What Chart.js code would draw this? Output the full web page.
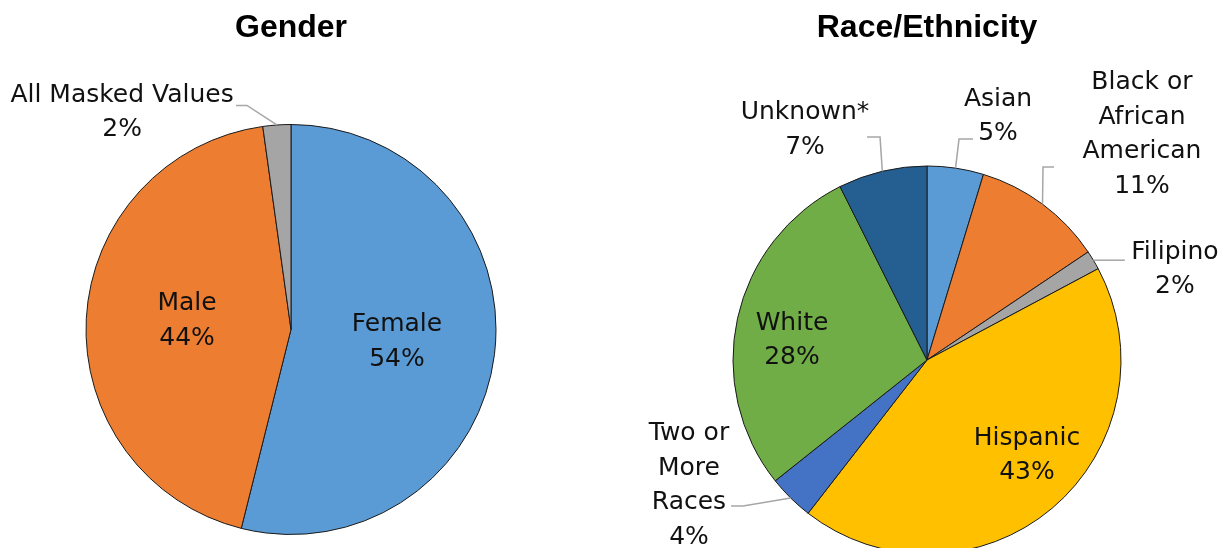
<!DOCTYPE html>
<html>
<head>
<meta charset="utf-8">
<script src="https://cdn.jsdelivr.net/npm/chart.js@4.4.0/dist/chart.umd.min.js"></script>
<style>
  html, body { margin: 0; padding: 0; background: #fff; width: 1228px; height: 548px; overflow: hidden; }
  .box { position: absolute; top: 0; }
  #genderBox { left: 0; width: 582px; height: 548px; }
  #raceBox { left: 627px; width: 600px; height: 560px; }
</style>
</head>
<body>
<div class="box" id="genderBox"><canvas id="genderPie"></canvas></div>
<div class="box" id="raceBox"><canvas id="racePie"></canvas></div>
<script>
// values (percent of total)
const genderLabels = ['Female', 'Male', 'All Masked Values'];
const genderValues = [53.9, 43.9, 2.2];
const genderColors = ['#5B9BD5', '#ED7D31', '#A5A5A5'];

const raceLabels = ['Asian', 'Black or\nAfrican\nAmerican', 'Filipino', 'Hispanic', 'Two or\nMore\nRaces', 'White', 'Unknown*'];
const raceValues = [4.7, 10.9, 1.6, 43.3, 3.8, 28.3, 7.4];
const raceColors = ['#5B9BD5', '#ED7D31', '#A5A5A5', '#FFC000', '#4472C4', '#70AD47', '#255E91'];

const labelFont = '25px "DejaVu Sans"';
const lineH = 34.5;

// label spots in units of the radius, relative to the pie centre
// at: text block centre, elbow: where the leader bends, end: x where the leader stops
const genderSpots = [
    { at: [0.517, 0.049] },
    { at: [-0.507, -0.054] },
    { at: [-0.824, -1.07], elbow: [-0.215, -1.093], end: -0.268 }
];
const raceSpots = [
    { at: [0.366, -1.268], elbow: [0.165, -1.139], end: 0.237 },
    { at: [1.108, -1.175], elbow: [0.598, -0.995], end: 0.655 },
    { at: [1.278, -0.479], elbow: null, end: 1.02 },
    { at: [0.515, 0.479] },
    { at: [-1.227, 0.634], elbow: [-0.948, 0.753], end: -1.010 },
    { at: [-0.696, -0.113] },
    { at: [-0.629, -1.198], elbow: [-0.242, -1.149], end: -0.309 }
];

const sliceLabels = {
    id: 'sliceLabels',
    afterDatasetsDraw(chart, args, opts) {
        const ctx = chart.ctx;
        const meta = chart.getDatasetMeta(0);
        const ds = chart.data.datasets[0];
        ctx.save();
        meta.data.forEach(function(arc, i) {
            const p = arc.getProps(['x', 'y', 'startAngle', 'endAngle', 'outerRadius'], true);
            const r = p.outerRadius;
            const spot = opts.spots[i];
            if (spot.end !== undefined) {
                const mid = (p.startAngle + p.endAngle) / 2;
                const sx = p.x + Math.cos(mid) * r;
                const sy = p.y + Math.sin(mid) * r;
                ctx.strokeStyle = '#A6A6A6';
                ctx.lineWidth = 1.5;
                ctx.beginPath();
                ctx.moveTo(sx, sy);
                let ey = sy;
                if (spot.elbow) {
                    ctx.lineTo(p.x + spot.elbow[0] * r, p.y + spot.elbow[1] * r);
                    ey = p.y + spot.elbow[1] * r;
                }
                ctx.lineTo(p.x + spot.end * r, ey);
                ctx.stroke();
            }
            const lines = chart.data.labels[i].split('\n');
            lines.push(Math.round(ds.data[i]) + '%');
            const cx = p.x + spot.at[0] * r;
            const cy = p.y + spot.at[1] * r + 2.5;
            ctx.fillStyle = '#111';
            ctx.font = labelFont;
            ctx.textAlign = 'center';
            ctx.textBaseline = 'middle';
            const top = cy - (lines.length - 1) * lineH / 2;
            lines.forEach(function(t, k) {
                ctx.fillText(t, cx, top + k * lineH);
            });
        });
        ctx.restore();
    }
};

function makePie(id, title, labels, values, colors, spots, titleGap, bottomPad) {
    const config = {
        type: 'pie',
        data: {
            labels: labels,
            datasets: [{
                data: values,
                backgroundColor: colors,
                borderColor: '#1a1a1a',
                borderWidth: 1
            }]
        },
        options: {
            responsive: true,
            maintainAspectRatio: false,
            animation: false,
            layout: { padding: { top: 0, bottom: bottomPad, left: 0, right: 0 } },
            plugins: {
                legend: { display: false },
                tooltip: { enabled: false },
                title: {
                    display: true,
                    text: title,
                    color: '#000',
                    font: { family: '"Liberation Sans"', size: 32, weight: 'bold', lineHeight: 1.2 },
                    padding: { top: 9, bottom: titleGap }
                },
                sliceLabels: { spots: spots }
            }
        },
        plugins: [sliceLabels]
    };
    const context = document.getElementById(id).getContext('2d');
    return new Chart(context, config);
}

// chart area: gender 124..535 (r 205), race 165.5..554.5 (r 194)
makePie('genderPie', 'Gender', genderLabels, genderValues, genderColors, genderSpots, 124 - 9 - 38.4, 13);
makePie('racePie', 'Race/Ethnicity', raceLabels, raceValues, raceColors, raceSpots, 165.5 - 9 - 38.4, 5.5);
</script>
</body>
</html>
